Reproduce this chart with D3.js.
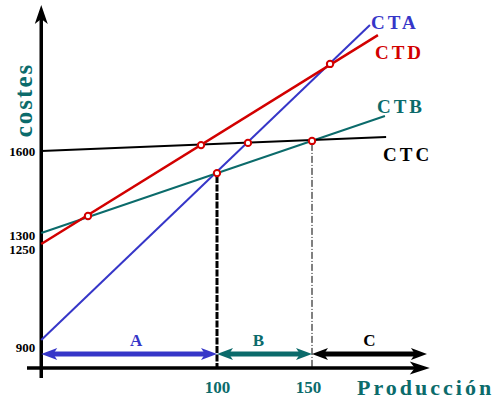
<!DOCTYPE html>
<html><head><meta charset="utf-8">
<script src="https://cdn.jsdelivr.net/npm/d3@7"></script>
<style>body{margin:0;background:#fff}svg{display:block}</style>
</head><body>
<script>
// ---- data ----
const series = ["CTA", "CTB", "CTC", "CTD"];
const qStart = 7.5;                          // production at the cost axis
const costAtStart = [925, 1307, 1600, 1268];
const qEnd = [180.5, 188.4, 189, 184.7];
const costAtEnd = [2050, 1725, 1650, 2014];
const crossQ = [32.1, 91.6, 100, 116.3, 150, 159.5];
const crossCost = [1368, 1621, 1521, 1629, 1636, 1911];
const yTicks = [900, 1250, 1300, 1600];
const xTicks = [100, 150];
const segments = ["A", "B", "C"];
const segStart = [7.5, 100, 150];
const segEnd = [100, 150, 210.5];
const segLevel = 875;
const dropQ = [100, 150];
const dropCost = [1521, 1636];

// ---- style ----
const W = 497, H = 406;
const BLUE = "#3636c8", RED = "#d20000", TEAL = "#0b6b6b", BLACK = "#000";
const colors = {CTA: BLUE, CTB: TEAL, CTC: BLACK, CTD: RED};
const widths = {CTA: 2, CTB: 2, CTC: 2, CTD: 2.5};
const labelOff = {CTA: [1, 4], CTB: [-8, -3], CTC: [-3, 24], CTD: [-3, 24]};
const segColors = [BLUE, TEAL, BLACK];
const segLabelDx = [7, -6, 0];
const SERIF = "'Liberation Serif','Times New Roman',serif";

const x = d3.scaleLinear().domain([100, 150]).range([217, 312]);
const y = d3.scaleLinear().domain([900, 1600]).range([347, 151]);

const svg = d3.select("body").append("svg").attr("width", W).attr("height", H)
  .style("font-family", SERIF).style("font-weight", "bold");

function head(g, px, py, angle, color, len = 16, half = 6, notch = 4) {
  g.append("path")
    .attr("d", `M0,0 L${-len},${-half} L${-len + notch},0 L${-len},${half} Z`)
    .attr("transform", `translate(${px},${py}) rotate(${angle})`)
    .attr("fill", color);
}

// axes
const axisG = svg.append("g");
const x0 = x(qStart);
axisG.append("line").attr("x1", x(0)).attr("x2", x(212) - 6)
  .attr("y1", y(825)).attr("y2", y(825)).attr("stroke", BLACK).attr("stroke-width", 3.5);
head(axisG, x(212), y(825), 0, BLACK, 20, 6.5, 5);
axisG.append("line").attr("x1", x0).attr("x2", x0)
  .attr("y1", y(789)).attr("y2", y(2121) + 6).attr("stroke", BLACK).attr("stroke-width", 3.5);
head(axisG, x0, y(2121), -90, BLACK, 19, 6.5, 5);

// y tick labels
const ya = svg.append("g").attr("transform", `translate(${x0},0)`)
  .call(d3.axisLeft(y).tickValues(yTicks).tickFormat(d3.format("d")).tickSize(0).tickPadding(6));
ya.select(".domain").remove();
ya.selectAll("text").style("font-family", SERIF).style("font-weight", "bold")
  .style("font-size", "13px").attr("fill", BLACK);

// x tick labels
const xa = svg.append("g").attr("transform", `translate(0,${y(825)})`)
  .call(d3.axisBottom(x).tickValues(xTicks).tickFormat(d3.format("d")).tickSize(0).tickPadding(13));
xa.select(".domain").remove();
xa.selectAll("text").style("font-family", SERIF).style("font-weight", "bold")
  .style("font-size", "17px").attr("fill", TEAL).attr("dx", (d, i) => i === 1 ? -4 : 0);

// drop lines
svg.append("line").attr("x1", x(dropQ[0])).attr("x2", x(dropQ[0]))
  .attr("y1", y(dropCost[0]) + 3).attr("y2", y(825))
  .attr("stroke", BLACK).attr("stroke-width", 3).attr("stroke-dasharray", "7,1.5");
svg.append("line").attr("x1", x(dropQ[1])).attr("x2", x(dropQ[1]))
  .attr("y1", y(dropCost[1]) + 3).attr("y2", y(825))
  .attr("stroke", BLACK).attr("stroke-width", 1).attr("stroke-dasharray", "7,2,1,2");

// segment arrows
segments.forEach((s, i) => {
  const g = svg.append("g");
  const a = x(segStart[i]), b = x(segEnd[i]), yy = y(segLevel);
  g.append("line").attr("x1", a + 8).attr("x2", b - 8).attr("y1", yy).attr("y2", yy)
    .attr("stroke", segColors[i]).attr("stroke-width", 5);
  head(g, b, yy, 0, segColors[i]);
  head(g, a, yy, 180, segColors[i]);
  g.append("text").attr("x", (a + b) / 2 + segLabelDx[i]).attr("y", yy - 8).attr("text-anchor", "middle")
    .attr("font-size", "17px").attr("fill", segColors[i]).text(s);
});

// cost lines
const line = d3.line().x(d => x(d[0])).y(d => y(d[1]));
series.forEach((s, i) => {
  svg.append("path").datum([[qStart, costAtStart[i]], [qEnd[i], costAtEnd[i]]])
    .attr("d", line).attr("fill", "none").attr("stroke", colors[s])
    .attr("stroke-width", widths[s]);
  svg.append("text").attr("x", x(qEnd[i]) + labelOff[s][0]).attr("y", y(costAtEnd[i]) + labelOff[s][1])
    .attr("font-size", "19px").attr("letter-spacing", "3px").attr("fill", colors[s]).text(s);
});

// intersection markers
svg.selectAll("circle.cross").data(crossQ).join("circle").attr("class", "cross")
  .attr("cx", d => x(d)).attr("cy", (d, i) => y(crossCost[i])).attr("r", 3.2)
  .attr("fill", "#fff").attr("stroke", RED).attr("stroke-width", 2);

// axis titles
svg.append("text").attr("transform", `translate(32,100) rotate(-90)`)
  .attr("text-anchor", "middle").attr("font-size", "25px").attr("letter-spacing", "2px")
  .attr("fill", TEAL).text("costes");
svg.append("text").attr("x", 357).attr("y", 395)
  .attr("font-size", "22px").attr("letter-spacing", "3px").attr("fill", TEAL).text("Producción");
</script>
</body></html>
